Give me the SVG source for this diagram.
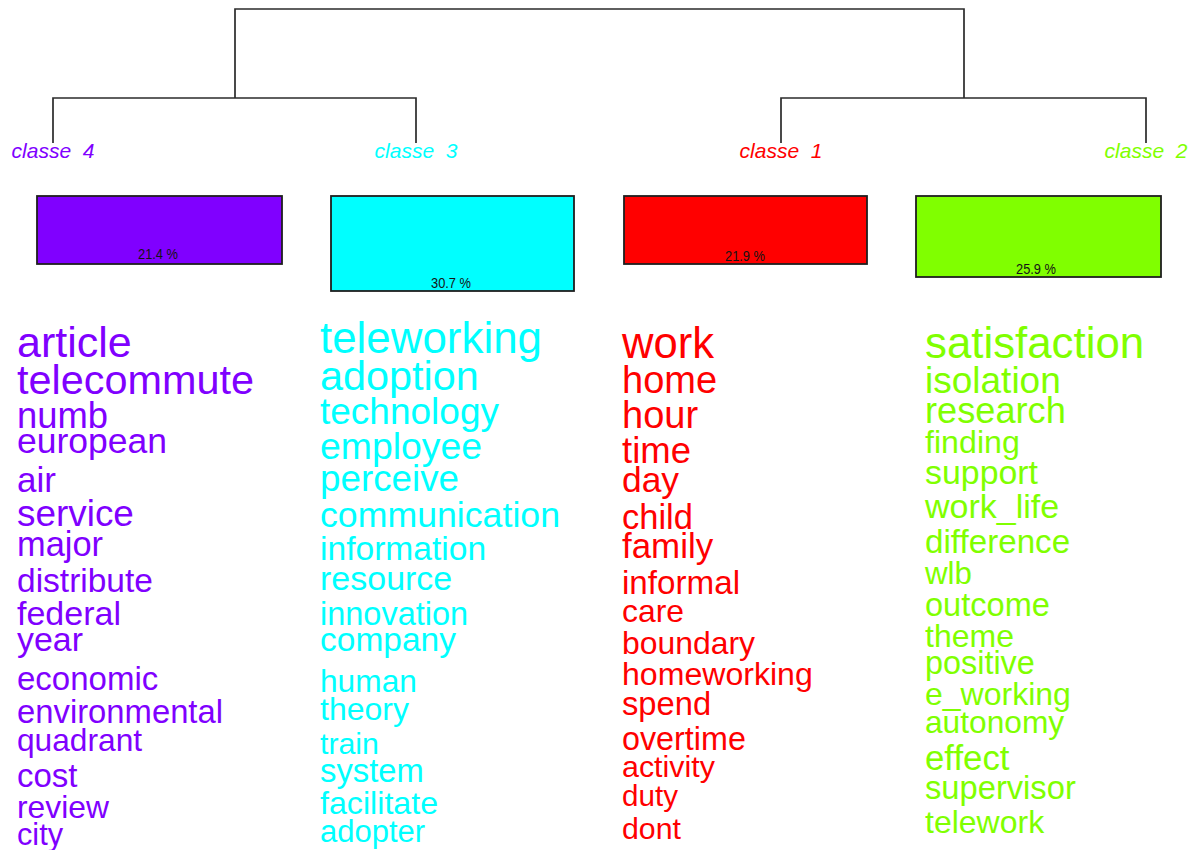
<svg xmlns="http://www.w3.org/2000/svg" width="1190" height="850" viewBox="0 0 1190 850">
  <style>
    text { font-family: "Liberation Sans", Arial, sans-serif; }
    .link { fill: none; stroke: #2b2b2b; stroke-width: 1.7; }
    .bar { stroke: #1e1e1e; stroke-width: 1.8; }
    .pct { font-size: 14px; fill: #141414; text-anchor: middle; }
    .lbl { font-size: 21px; font-style: italic; text-anchor: middle; }
    .c1 { fill: #FF0000; }
    .c2 { fill: #80FF00; }
    .c3 { fill: #00FFFF; }
    .c4 { fill: #8000FF; }
  </style>

  <!-- dendrogram links -->
  <g id="connectors">
    <path class="link" d="M235,98 V9 H964 V98"/>
    <path class="link" d="M53,143 V98 H416 V143"/>
    <path class="link" d="M781,143 V98 H1146 V143"/>
  </g>

  <!-- classe 4 -->
  <g id="classe-4">
    <text class="lbl c4" x="53" y="158" xml:space="preserve">classe  4</text>
    <rect class="bar c4" x="37" y="196" width="245" height="68"/>
    <text class="pct" x="158" y="259" textLength="40" lengthAdjust="spacingAndGlyphs">21.4 %</text>
    <g class="c4">
      <text x="17" y="357" font-size="43">article</text>
      <text x="17" y="394" font-size="41.4">telecommute</text>
      <text x="17" y="428" font-size="36.4">numb</text>
      <text x="17" y="453" font-size="35.5">european</text>
      <text x="17" y="492" font-size="35">air</text>
      <text x="17" y="526" font-size="36.9">service</text>
      <text x="17" y="556" font-size="34.4">major</text>
      <text x="17" y="592" font-size="33.5">distribute</text>
      <text x="17" y="625" font-size="34">federal</text>
      <text x="17" y="651" font-size="33.9">year</text>
      <text x="17" y="690" font-size="33">economic</text>
      <text x="17" y="723" font-size="32.8">environmental</text>
      <text x="17" y="751" font-size="31.7">quadrant</text>
      <text x="17" y="787" font-size="33">cost</text>
      <text x="17" y="818" font-size="31.8">review</text>
      <text x="17" y="845" font-size="30.7">city</text>
    </g>
  </g>

  <!-- classe 3 -->
  <g id="classe-3">
    <text class="lbl c3" x="416" y="158" xml:space="preserve">classe  3</text>
    <rect class="bar c3" x="331" y="196" width="243" height="95"/>
    <text class="pct" x="451" y="288" textLength="40" lengthAdjust="spacingAndGlyphs">30.7 %</text>
    <g class="c3">
      <text x="320" y="353" font-size="43.9">teleworking</text>
      <text x="320" y="390" font-size="41.4">adoption</text>
      <text x="320" y="424" font-size="37">technology</text>
      <text x="320" y="459" font-size="37.4">employee</text>
      <text x="320" y="491" font-size="36.8">perceive</text>
      <text x="320" y="527" font-size="35.7">communication</text>
      <text x="320" y="560" font-size="33.6">information</text>
      <text x="320" y="590" font-size="34">resource</text>
      <text x="320" y="625" font-size="32.5">innovation</text>
      <text x="320" y="651" font-size="33.5">company</text>
      <text x="320" y="692" font-size="31.7">human</text>
      <text x="320" y="720" font-size="32">theory</text>
      <text x="320" y="754" font-size="30.3">train</text>
      <text x="320" y="782" font-size="32.8">system</text>
      <text x="320" y="814" font-size="32.2">facilitate</text>
      <text x="320" y="842" font-size="31">adopter</text>
    </g>
  </g>

  <!-- classe 1 -->
  <g id="classe-1">
    <text class="lbl c1" x="781" y="158" xml:space="preserve">classe  1</text>
    <rect class="bar c1" x="624" y="196" width="243" height="68"/>
    <text class="pct" x="745" y="261" textLength="40" lengthAdjust="spacingAndGlyphs">21.9 %</text>
    <g class="c1">
      <text x="622" y="358" font-size="43.6">work</text>
      <text x="622" y="393" font-size="38">home</text>
      <text x="622" y="428" font-size="38">hour</text>
      <text x="622" y="463" font-size="36.5">time</text>
      <text x="622" y="492" font-size="35.4">day</text>
      <text x="622" y="529" font-size="34.5">child</text>
      <text x="622" y="558" font-size="34.9">family</text>
      <text x="622" y="594" font-size="33.2">informal</text>
      <text x="622" y="622" font-size="31.9">care</text>
      <text x="622" y="654" font-size="31.9">boundary</text>
      <text x="622" y="685" font-size="32.1">homeworking</text>
      <text x="622" y="715" font-size="32.7">spend</text>
      <text x="622" y="750" font-size="32.3">overtime</text>
      <text x="622" y="777" font-size="30.4">activity</text>
      <text x="622" y="806" font-size="29.6">duty</text>
      <text x="622" y="839" font-size="30.3">dont</text>
    </g>
  </g>

  <!-- classe 2 -->
  <g id="classe-2">
    <text class="lbl c2" x="1146" y="158" xml:space="preserve">classe  2</text>
    <rect class="bar c2" x="916" y="196" width="245" height="81"/>
    <text class="pct" x="1036" y="274" textLength="40" lengthAdjust="spacingAndGlyphs">25.9 %</text>
    <g class="c2">
      <text x="925" y="358" font-size="43.8">satisfaction</text>
      <text x="925" y="393" font-size="37">isolation</text>
      <text x="925" y="423" font-size="36.2">research</text>
      <text x="925" y="453" font-size="32.2">finding</text>
      <text x="925" y="484" font-size="33.9">support</text>
      <text x="925" y="518" font-size="34">work_life</text>
      <text x="925" y="553" font-size="33.2">difference</text>
      <text x="925" y="584" font-size="31.3">wlb</text>
      <text x="925" y="616" font-size="32.6">outcome</text>
      <text x="925" y="647" font-size="32">theme</text>
      <text x="925" y="674" font-size="32.4">positive</text>
      <text x="925" y="705" font-size="32">e_working</text>
      <text x="925" y="733" font-size="31.7">autonomy</text>
      <text x="925" y="770" font-size="34.8">effect</text>
      <text x="925" y="799" font-size="32.7">supervisor</text>
      <text x="925" y="833" font-size="32">telework</text>
    </g>
  </g>
</svg>
